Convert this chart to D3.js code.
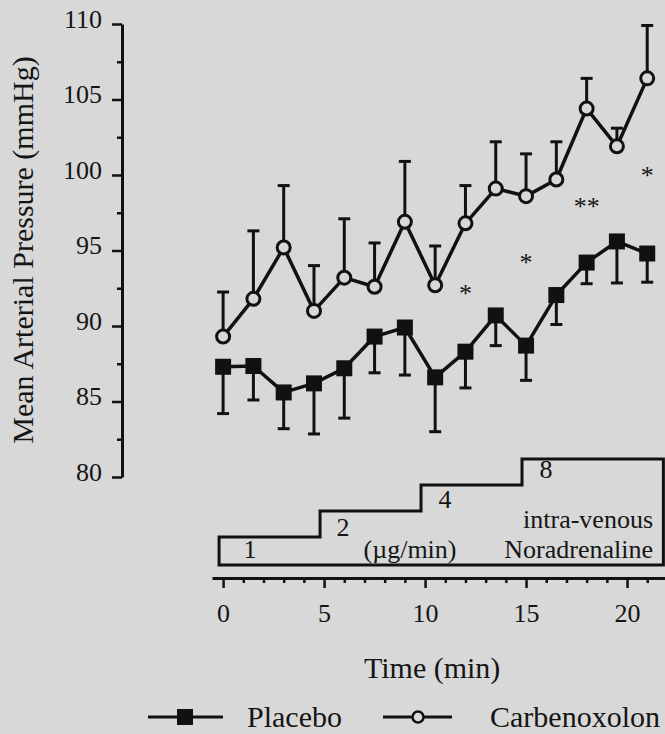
<!DOCTYPE html>
<html>
<head>
<meta charset="utf-8">
<script src="https://cdn.jsdelivr.net/npm/d3@7"></script>
<style>
  html, body { margin: 0; padding: 0; background: #d8d8d8; }
  svg { display: block; }
  text { font-family: "Liberation Serif", "Times New Roman", serif; fill: #151515; }
</style>
</head>
<body>
<svg id="chart" width="665" height="734"></svg>
<script>
// Sampling times (min)
const times = [0, 1.5, 3, 4.5, 6, 7.5, 9, 10.5, 12, 13.5, 15, 16.5, 18, 19.5, 21];
// Placebo: mean and lower SEM limit (mmHg)
const placeboMean = [87.3, 87.35, 85.6, 86.2, 87.2, 89.3, 89.9, 86.6, 88.3, 90.7, 88.7, 92.05, 94.2, 95.6, 94.8];
const placeboLow  = [84.2, 85.1, 83.2, 82.85, 83.9, 86.9, 86.75, 83.0, 85.9, 88.7, 86.4, 90.1, 92.8, 92.85, 92.9];
// Carbenoxolon: mean and upper SEM limit (mmHg)
const carbMean = [89.3, 91.8, 95.2, 91.0, 93.2, 92.6, 96.9, 92.7, 96.8, 99.1, 98.6, 99.7, 104.4, 101.9, 106.4];
const carbHigh = [92.25, 96.3, 99.3, 94.0, 97.1, 95.5, 100.9, 95.3, 99.3, 102.2, 101.4, 102.2, 106.4, 103.1, 109.9];
// Significance marks between groups
const sigTimes  = [12, 15, 18, 21];
const sigLabels = ["*", "*", "**", "*"];
const sigLevels = [92.5, 94.6, 98.3, 100.3];
// Noradrenaline infusion steps (µg/min)
const doseStart = [-0.2, 4.8, 9.8, 14.8];
const doseEnd = 21.8;
const doseRates = [1, 2, 4, 8];
// Axis ticks
const yTicks = [80, 85, 90, 95, 100, 105, 110];
const yMinorTicks = [82.5, 87.5, 92.5, 97.5, 102.5, 107.5];
const xTicks = [0, 5, 10, 15, 20];
const xMinorTicks = d3.range(0, 22).filter(t => t % 5 !== 0);
const seriesNames = ["Placebo", "Carbenoxolon"];

const ink = "#111";
const paper = "#d8d8d8";
const svg = d3.select("#chart");

const x = d3.scaleLinear().domain([-0.55, 21.9]).range([212, 665.4]);
const y = d3.scaleLinear().domain([80, 110]).range([477, 24]);
const doseY = d3.scaleLog().base(2).domain([1, 8]).range([537, 459]);
const doseBase = 565;
const xAxisY = 578;
const yAxisX = 122;

function styleAxis(g, fontSize) {
  g.attr("font-family", null).attr("font-size", null);
  g.select(".domain").attr("stroke", ink).attr("stroke-width", 3);
  g.selectAll(".tick line").attr("stroke", ink).attr("stroke-width", 2.5);
  g.selectAll(".tick text").style("font-size", fontSize + "px").attr("fill", "#151515");
}

// Y axis
const gy = svg.append("g").attr("transform", `translate(${yAxisX},0)`)
  .call(d3.axisLeft(y).tickValues(yTicks).tickSize(10).tickPadding(10).tickSizeOuter(0));
styleAxis(gy, 26);
gy.selectAll(".tick text").attr("dy", "0.12em");
svg.append("g").attr("transform", `translate(${yAxisX},0)`)
  .call(d3.axisLeft(y).tickValues(yMinorTicks).tickSize(5).tickFormat(""))
  .call(g => g.select(".domain").remove())
  .call(g => g.selectAll(".tick line").attr("stroke", ink).attr("stroke-width", 2.5));

// X axis
const gx = svg.append("g").attr("transform", `translate(0,${xAxisY})`)
  .call(d3.axisBottom(x).tickValues(xTicks).tickSize(10).tickSizeOuter(0));
styleAxis(gx, 26);
gx.selectAll(".tick text").attr("y", 44).attr("dy", 0);
svg.append("g").attr("transform", `translate(0,${xAxisY})`)
  .call(d3.axisBottom(x).tickValues(xMinorTicks).tickSize(5).tickFormat(""))
  .call(g => g.select(".domain").remove())
  .call(g => g.selectAll(".tick line").attr("stroke", ink).attr("stroke-width", 2.5));

// Axis titles
svg.append("text")
  .attr("transform", `translate(33,250) rotate(-90)`)
  .attr("text-anchor", "middle")
  .style("font-size", "30px")
  .text("Mean Arterial Pressure (mmHg)");
svg.append("text")
  .attr("x", (x(0) + x(21)) / 2 - 3).attr("y", 678)
  .attr("text-anchor", "middle")
  .style("font-size", "30px")
  .text("Time (min)");

// Infusion staircase
const p = d3.path();
p.moveTo(x(doseStart[0]), doseBase);
doseStart.forEach((t, i) => {
  p.lineTo(x(t), doseY(doseRates[i]));
  const next = i < doseStart.length - 1 ? doseStart[i + 1] : doseEnd;
  p.lineTo(x(next), doseY(doseRates[i]));
});
p.lineTo(x(doseEnd), doseBase);
p.closePath();
svg.append("path").attr("d", p.toString())
  .attr("fill", "none").attr("stroke", ink).attr("stroke-width", 3)
  .attr("stroke-linejoin", "miter");

const labelOffsets = [31, 23, 24, 24];
const labelDrops = [21, 25, 23, 19];
svg.append("g").selectAll("text").data(doseRates).join("text")
  .attr("x", (d, i) => x(doseStart[i]) + labelOffsets[i])
  .attr("y", (d, i) => doseY(d) + labelDrops[i])
  .attr("text-anchor", "middle")
  .style("font-size", "26px")
  .text(d => d);
svg.append("text").attr("x", 410).attr("y", doseBase - 7)
  .attr("text-anchor", "middle").style("font-size", "26px").text("(µg/min)");
svg.append("text").attr("x", 653).attr("y", doseBase - 37)
  .attr("text-anchor", "end").style("font-size", "26px").text("intra-venous");
svg.append("text").attr("x", 653).attr("y", doseBase - 7)
  .attr("text-anchor", "end").style("font-size", "26px").text("Noradrenaline");

// Error bars
const capHalf = 6;
function errorBars(means, limits) {
  const g = svg.append("g").attr("stroke", ink).attr("stroke-width", 3);
  times.forEach((t, i) => {
    g.append("line").attr("x1", x(t)).attr("x2", x(t))
      .attr("y1", y(means[i])).attr("y2", y(limits[i]));
    g.append("line").attr("x1", x(t) - capHalf).attr("x2", x(t) + capHalf)
      .attr("y1", y(limits[i])).attr("y2", y(limits[i]));
  });
}
errorBars(placeboMean, placeboLow);
errorBars(carbMean, carbHigh);

const line = d3.line().x(d => x(d[0])).y(d => y(d[1]));
const placeboPts = times.map((t, i) => [t, placeboMean[i]]);
const carbPts = times.map((t, i) => [t, carbMean[i]]);

svg.append("path").attr("d", line(placeboPts))
  .attr("fill", "none").attr("stroke", ink).attr("stroke-width", 3.5).attr("stroke-linejoin", "round");
svg.append("path").attr("d", line(carbPts))
  .attr("fill", "none").attr("stroke", ink).attr("stroke-width", 3.5).attr("stroke-linejoin", "round");

const sq = 16;
svg.append("g").selectAll("rect").data(placeboPts).join("rect")
  .attr("x", d => x(d[0]) - sq / 2).attr("y", d => y(d[1]) - sq / 2)
  .attr("width", sq).attr("height", sq).attr("fill", ink);
svg.append("g").selectAll("circle").data(carbPts).join("circle")
  .attr("cx", d => x(d[0])).attr("cy", d => y(d[1])).attr("r", 6.5)
  .attr("fill", paper).attr("stroke", ink).attr("stroke-width", 3);

// Significance asterisks
svg.append("g").selectAll("text").data(sigTimes).join("text")
  .attr("x", d => x(d)).attr("y", (d, i) => y(sigLevels[i]) + 14)
  .attr("text-anchor", "middle")
  .style("font-size", "26px")
  .text((d, i) => sigLabels[i]);

// Legend
const legY = 717;
const leg = svg.append("g");
leg.append("line").attr("x1", 148).attr("x2", 223).attr("y1", legY).attr("y2", legY)
  .attr("stroke", ink).attr("stroke-width", 3);
leg.append("rect").attr("x", 185 - 8).attr("y", legY - 8).attr("width", 16).attr("height", 16).attr("fill", ink);
leg.append("text").attr("x", 247).attr("y", legY + 10).style("font-size", "30px").text(seriesNames[0]);
leg.append("line").attr("x1", 383).attr("x2", 452).attr("y1", legY).attr("y2", legY)
  .attr("stroke", ink).attr("stroke-width", 3);
leg.append("circle").attr("cx", 418).attr("cy", legY).attr("r", 5.5)
  .attr("fill", paper).attr("stroke", ink).attr("stroke-width", 2.5);
leg.append("text").attr("x", 490).attr("y", legY + 10).style("font-size", "30px").text(seriesNames[1]);
</script>
</body>
</html>
